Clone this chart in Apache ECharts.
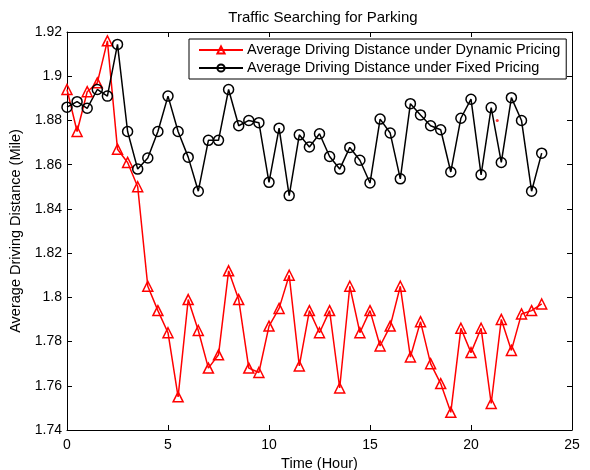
<!DOCTYPE html>
<html>
<head>
<meta charset="utf-8">
<script src="https://cdn.jsdelivr.net/npm/echarts@6/dist/echarts.min.js"></script>
<style>
  html, body { margin: 0; padding: 0; background: #fff; }
  #chart { width: 590px; height: 470px; }
</style>
</head>
<body>
<div id="chart"></div>
<script>
// time of day, every half hour
const hours = [];
for (let i = 0; i < 48; i++) hours.push(i * 0.5);

const dynamicPricing = [
  1.894, 1.875, 1.893, 1.897, 1.916, 1.867, 1.861, 1.850,
  1.805, 1.794, 1.784, 1.755, 1.799, 1.785, 1.768, 1.774,
  1.812, 1.799, 1.768, 1.766, 1.787, 1.795, 1.810, 1.769,
  1.794, 1.784, 1.794, 1.759, 1.805, 1.784, 1.794, 1.778,
  1.787, 1.805, 1.773, 1.789, 1.770, 1.761, 1.748, 1.786,
  1.775, 1.786, 1.752, 1.790, 1.776, 1.7925, 1.794, 1.797
];

const fixedPricing = [
  1.886, 1.8885, 1.8855, 1.894, 1.891, 1.9144, 1.875, 1.858,
  1.863, 1.875, 1.891, 1.875, 1.8634, 1.848, 1.871, 1.871,
  1.894, 1.8776, 1.880, 1.879, 1.852, 1.8765, 1.846, 1.8735,
  1.868, 1.874, 1.8637, 1.858, 1.8678, 1.862, 1.8517, 1.8806,
  1.8743, 1.8536, 1.8876, 1.8825, 1.8776, 1.8758, 1.8567, 1.881,
  1.8896, 1.8554, 1.8858, 1.861, 1.8903, 1.880, 1.848, 1.8652
];

// stray red dot in the original figure
const strayDot = [[21.3, 1.880]];

const font = 'Liberation Sans, Arial, Helvetica, sans-serif';
const chart = echarts.init(document.getElementById('chart'));

const pair = (ys) => hours.map((h, i) => [h, ys[i]]);

const tickStyle = { show: true, inside: true, length: 5, lineStyle: { color: '#000', width: 1 } };

chart.setOption({
  animation: false,
  backgroundColor: '#fff',
  title: {
    text: 'Traffic Searching for Parking',
    left: 318,
    textAlign: 'center',
    top: 5,
    textStyle: { fontFamily: font, fontSize: 15, fontWeight: 'normal', color: '#000' }
  },
  grid: { left: 67, right: 18, top: 32, bottom: 40, containLabel: false, outerBoundsMode: 'none' },
  legend: {
    orient: 'vertical',
    left: 189,
    top: 39,
    padding: [3, 6, 3, 9],
    itemWidth: 44,
    itemHeight: 9,
    itemGap: 2,
    borderColor: '#000',
    borderWidth: 1,
    backgroundColor: '#fff',
    textStyle: { fontFamily: font, fontSize: 14.5, lineHeight: 16, color: '#000', padding: [0, 0, 0, -1] },
    data: [
      'Average Driving Distance under Dynamic Pricing',
      'Average Driving Distance under Fixed Pricing'
    ]
  },
  xAxis: [{
    type: 'value',
    min: 0, max: 25, interval: 5,
    name: 'Time (Hour)',
    nameLocation: 'middle',
    nameGap: 20,
    nameTextStyle: { fontFamily: font, fontSize: 14.5, color: '#000' },
    axisLine: { show: true, lineStyle: { color: '#000', width: 1 } },
    axisTick: tickStyle,
    axisLabel: { fontFamily: font, fontSize: 14, color: '#000', margin: 8 },
    splitLine: { show: false }
  }, {
    type: 'value',
    position: 'top',
    min: 0, max: 25, interval: 5,
    axisLine: { show: true, onZero: false, lineStyle: { color: '#000', width: 1 } },
    axisTick: tickStyle,
    axisLabel: { show: false },
    splitLine: { show: false }
  }],
  yAxis: [{
    type: 'value',
    min: 1.74, max: 1.92, interval: 0.02,
    name: 'Average Driving Distance (Mile)',
    nameLocation: 'middle',
    nameGap: 40,
    nameTextStyle: { fontFamily: font, fontSize: 14.5, color: '#000' },
    axisLine: { show: true, lineStyle: { color: '#000', width: 1 } },
    axisTick: tickStyle,
    axisLabel: { fontFamily: font, fontSize: 14, color: '#000', margin: 5 },
    splitLine: { show: false }
  }, {
    type: 'value',
    position: 'right',
    min: 1.74, max: 1.92, interval: 0.02,
    axisLine: { show: true, onZero: false, lineStyle: { color: '#000', width: 1 } },
    axisTick: tickStyle,
    axisLabel: { show: false },
    splitLine: { show: false }
  }],
  series: [
    {
      name: 'Average Driving Distance under Dynamic Pricing',
      type: 'line',
      data: pair(dynamicPricing),
      symbol: 'triangle',
      symbolSize: 10,
      showAllSymbol: true,
      color: '#ff0000',
      lineStyle: { color: '#ff0000', width: 1.5 },
      itemStyle: { color: 'transparent', borderColor: '#ff0000', borderWidth: 1.5 }
    },
    {
      name: 'Average Driving Distance under Fixed Pricing',
      type: 'line',
      data: pair(fixedPricing),
      symbol: 'circle',
      symbolSize: 10,
      showAllSymbol: true,
      color: '#000',
      lineStyle: { color: '#000', width: 1.5 },
      itemStyle: { color: 'transparent', borderColor: '#000', borderWidth: 1.5 }
    },
    {
      name: 'dot',
      type: 'scatter',
      data: strayDot,
      symbolSize: 3,
      itemStyle: { color: '#ff0000' },
      silent: true
    }
  ]
});
</script>
</body>
</html>
